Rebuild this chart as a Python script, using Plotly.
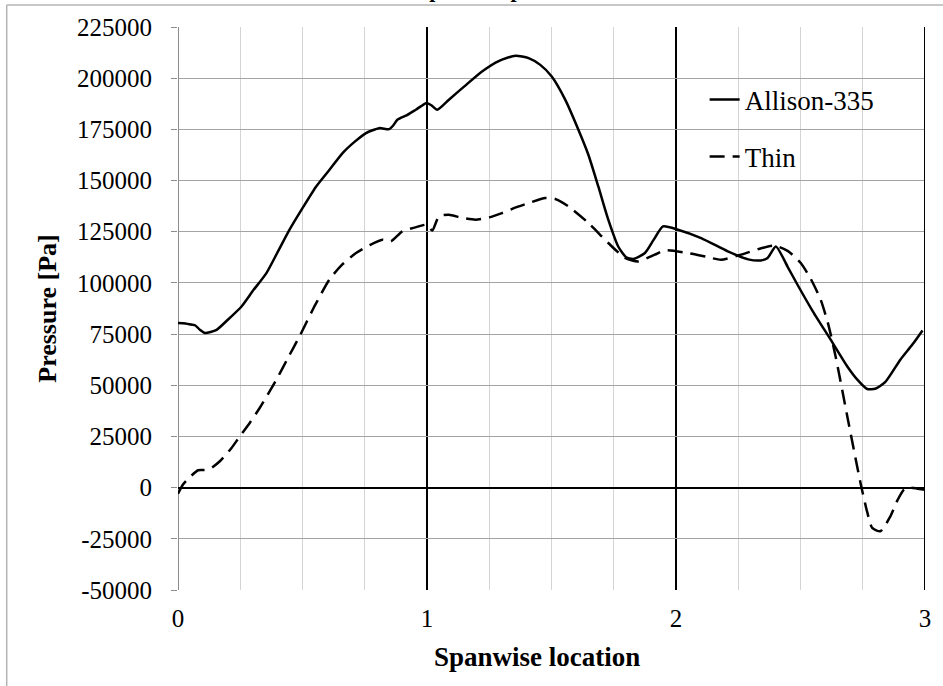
import plotly.graph_objects as go

# Spanwise location samples and pressure [Pa] for each blade profile
allison_x = [0.0, 0.03, 0.055, 0.07, 0.088, 0.108, 0.155, 0.2, 0.255, 0.3, 0.355, 0.4,
             0.448, 0.5, 0.555, 0.61, 0.661, 0.71, 0.755, 0.808, 0.848, 0.865, 0.881,
             0.92, 0.955, 0.999, 1.02, 1.041, 1.088, 1.15, 1.221, 1.29, 1.355, 1.408,
             1.455, 1.501, 1.555, 1.608, 1.648, 1.688, 1.728, 1.768, 1.8, 1.828, 1.875,
             1.91, 1.948, 2.008, 2.101, 2.208, 2.29, 2.341, 2.368, 2.401, 2.45, 2.488,
             2.55, 2.621, 2.688, 2.73, 2.768, 2.8, 2.84, 2.901, 2.95, 2.99]
allison_p = [80400, 80200, 79600, 79200, 77100, 75500, 77100, 82000, 88500, 96000, 104800, 115000,
             126000, 136500, 147100, 155500, 163400, 169000, 173200, 175600, 175100, 177000, 179700,
             182000, 184600, 187900, 186500, 184600, 189500, 196000, 203300, 208500, 211000, 209800,
             206500, 200800, 189500, 174800, 162600, 147100, 130900, 117800, 112500, 111700, 114600,
             121000, 127600, 126000, 121900, 115400, 111500, 111000, 112200, 117800, 107500, 99100,
             86000, 72300, 59200, 52500, 48200, 48300, 51500, 62500, 70000, 76800]

thin_x = [0.0, 0.02, 0.048, 0.081, 0.105, 0.128, 0.168, 0.215, 0.248, 0.288, 0.328, 0.395,
          0.44, 0.488, 0.55, 0.608, 0.66, 0.715, 0.77, 0.821, 0.855, 0.901, 0.95, 0.999,
          1.021, 1.048, 1.088, 1.14, 1.195, 1.25, 1.301, 1.36, 1.408, 1.475, 1.515, 1.568,
          1.648, 1.728, 1.795, 1.848, 1.915, 1.955, 2.048, 2.12, 2.181, 2.261, 2.33, 2.395,
          2.45, 2.501, 2.541, 2.581, 2.611, 2.641, 2.688, 2.741, 2.768, 2.788, 2.821, 2.861,
          2.89, 2.915, 2.941, 2.97, 3.0]
thin_p = [-3000, 1500, 5200, 8500, 8600, 9100, 12900, 19400, 25000, 31600, 38900, 52700,
          63000, 73900, 89000, 101600, 109000, 114600, 118500, 121100, 120300, 125200, 127000, 128400,
          125600, 132500, 133300, 131800, 130900, 132000, 134100, 137000, 139000, 141500, 141000, 137400,
          129300, 119500, 112200, 110500, 113800, 115900, 114600, 112800, 111300, 113800, 116500, 118200,
          115500, 109700, 102000, 91800, 80000, 64100, 34800, 2300, -12000, -19700, -21300, -14000,
          -6000, -1000, 0, -500, -1000]

y_ticks = list(range(-50000, 225001, 25000))
x_ticks = [0, 1, 2, 3]

serif = "Liberation Serif"

fig = go.Figure()
fig.add_trace(go.Scatter(
    x=allison_x, y=allison_p, name="Allison-335", mode="lines",
    line=dict(color="black", width=2.5, shape="spline", smoothing=0.6),
))
fig.add_trace(go.Scatter(
    x=thin_x, y=thin_p, name="Thin", mode="lines",
    line=dict(color="black", width=2.5, dash="15px,8px", shape="spline", smoothing=0.6),
    legendgroup="thin",
))

fig.update_layout(
    width=943, height=686,
    margin=dict(l=178, r=15, t=27, b=96),
    paper_bgcolor="white", plot_bgcolor="white",
    font=dict(family=serif, color="black", size=25),
    showlegend=True,
    legend=dict(
        x=0.705, y=0.914, xanchor="left", yanchor="top",
        bgcolor="rgba(0,0,0,0)", font=dict(size=27, family=serif),
        tracegroupgap=19, traceorder="grouped", itemwidth=30,
    ),
    xaxis=dict(
        range=[0, 3], tickvals=x_ticks, ticktext=[str(v) for v in x_ticks],
        showgrid=True, gridcolor="black", gridwidth=2,
        minor=dict(dtick=0.25, showgrid=True, gridcolor="#d4d4d4", gridwidth=1),
        zeroline=True, zerolinecolor="#8c8c8c", zerolinewidth=1,
        showline=False, ticks="", ticklabelstandoff=11,
        tickfont=dict(size=25, family=serif),
    ),
    yaxis=dict(
        range=[-50000, 225000], tickvals=y_ticks, ticktext=[str(v) for v in y_ticks],
        showgrid=True, gridcolor="#a3a3a3", gridwidth=1,
        zeroline=True, zerolinecolor="black", zerolinewidth=2,
        showline=False, ticks="outside", ticklen=6, tickcolor="#8c8c8c",
        ticklabelstandoff=14,
        tickfont=dict(size=25, family=serif),
        title=dict(text="<b>Pressure [Pa]</b>", font=dict(size=26, family=serif), standoff=12),
    ),
)

# Span axis title, centred under the labelled area
fig.add_annotation(
    text="<b>Spanwise location</b>", xref="paper", yref="paper",
    x=0.481, y=-0.119, xanchor="center", yanchor="middle", showarrow=False,
    font=dict(size=27, family=serif, color="black"),
)

# Major gridline at the right end of the span axis
fig.add_shape(type="line", xref="x", yref="paper", x0=3, x1=3, y0=0, y1=1,
              line=dict(color="black", width=2))

# Chart title sitting above the visible frame
fig.add_annotation(
    text="<b>Spanwise pressure</b>", xref="paper", yref="paper",
    x=0.317, y=1.0409, xanchor="left", yanchor="bottom", showarrow=False,
    font=dict(size=22, family=serif, color="black"),
)

# Outer chart-area frame (left and top edges)
fig.add_shape(type="line", xref="paper", yref="paper",
              x0=-0.2293, x1=-0.2293, y0=-0.2, y1=1.0391,
              line=dict(color="#b4b4b4", width=1.5))
fig.add_shape(type="line", xref="paper", yref="paper",
              x0=-0.2293, x1=1.03, y0=1.0391, y1=1.0391,
              line=dict(color="#b4b4b4", width=1.5))

fig.write_html("out.html")
